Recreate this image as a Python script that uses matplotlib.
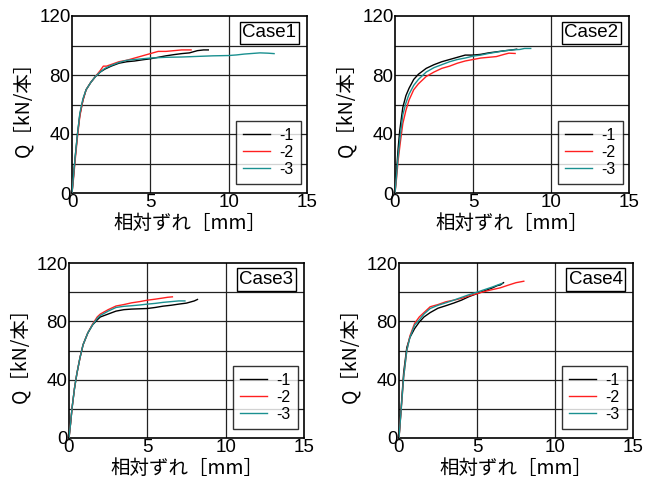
import matplotlib
matplotlib.use("Agg")
import matplotlib.pyplot as plt

plt.rcParams['font.family'] = ['Liberation Sans', 'Noto Sans CJK JP', 'DejaVu Sans']

# ---- data: relative slip [mm] vs shear force per connector [kN] ----
case_names = ["Case1", "Case2", "Case3", "Case4"]
series_labels = ["-1", "-2", "-3"]
series_colors = ["#000000", "#ff2020", "#1a9090"]

# Case1
c1_x1 = [0, 0.1, 0.2, 0.35, 0.5, 0.7, 0.9, 1.2, 1.5, 1.8, 2.1, 2.5, 3.0, 3.5, 4.0, 4.5, 5.0, 5.5, 6.0, 6.5, 7.0, 7.5, 8.0, 8.4, 8.7]
c1_y1 = [0, 12, 24, 40, 53, 63, 70, 75, 79, 82, 84, 86, 88, 89, 89.5, 90.3, 91, 92, 93, 93.8, 94.5, 95, 96.5, 97, 97]
c1_x2 = [0, 0.1, 0.2, 0.35, 0.5, 0.7, 0.9, 1.2, 1.5, 1.8, 2.0, 2.2, 2.6, 3.0, 3.5, 4.0, 4.5, 5.0, 5.5, 6.0, 6.5, 7.0, 7.6]
c1_y2 = [0, 10, 22, 38, 52, 63, 70, 75, 79, 83, 86, 86, 87.5, 89, 90, 91.5, 93, 94.5, 96, 96, 96.5, 97, 97]
c1_x3 = [0, 0.1, 0.2, 0.35, 0.5, 0.7, 0.9, 1.2, 1.5, 1.8, 2.1, 2.5, 3.0, 3.5, 4.0, 4.5, 5.0, 6.0, 7.0, 8.0, 9.0, 10.0, 10.5, 11.0, 11.5, 12.0, 12.5, 12.9]
c1_y3 = [0, 12, 24, 40, 54, 64, 70, 75, 79, 82, 84.5, 86.5, 88.5, 90, 90.5, 91, 91.5, 92, 92.2, 92.6, 93, 93.2, 93.6, 94.2, 94.6, 95, 94.8, 94.5]

# Case2
c2_x1 = [0, 0.1, 0.2, 0.3, 0.5, 0.7, 0.9, 1.2, 1.5, 2.0, 2.5, 3.0, 3.5, 4.0, 4.5, 5.0, 5.5, 6.0, 6.5, 7.0, 7.5, 7.8]
c2_y1 = [0, 15, 30, 42, 58, 66, 71, 77, 80.5, 84.5, 87, 89, 90.5, 92, 93.5, 93.5, 94, 95, 95.7, 96.4, 97, 97.5]
c2_x2 = [0, 0.1, 0.2, 0.35, 0.5, 0.7, 0.9, 1.2, 1.5, 2.0, 2.5, 3.0, 3.5, 4.0, 4.5, 5.0, 5.5, 6.0, 6.5, 7.0, 7.3, 7.7]
c2_y2 = [0, 10, 22, 35, 47, 56, 63, 70, 74, 79, 82, 84.5, 86, 88, 89.5, 90.5, 91.5, 92, 92.5, 94, 94.8, 94.6]
c2_x3 = [0, 0.1, 0.2, 0.35, 0.5, 0.7, 0.9, 1.2, 1.5, 2.0, 2.5, 3.0, 3.5, 4.0, 4.5, 5.0, 5.5, 6.0, 6.5, 7.0, 7.5, 8.0, 8.3, 8.7]
c2_y3 = [0, 12, 25, 40, 53, 61, 67, 73, 77, 82, 85, 87, 89, 90.5, 91.5, 92.8, 93.5, 94.6, 95.5, 96.4, 97, 97.3, 98, 98]

# Case3
c3_x1 = [0, 0.1, 0.2, 0.35, 0.5, 0.7, 0.9, 1.2, 1.5, 1.8, 2.0, 2.5, 3.0, 3.5, 4.0, 5.0, 5.5, 6.0, 6.5, 7.0, 7.5, 8.0, 8.2]
c3_y1 = [0, 10, 21, 34, 44, 55, 64, 72, 77.5, 81, 83, 85, 87, 88, 88.4, 88.8, 89.5, 90.4, 91, 91.8, 92.5, 94, 95]
c3_x2 = [0, 0.1, 0.2, 0.35, 0.5, 0.7, 0.9, 1.2, 1.5, 1.8, 2.0, 2.5, 3.0, 3.5, 4.0, 4.5, 5.0, 5.5, 6.0, 6.3, 6.6]
c3_y2 = [0, 10, 21, 34, 44, 55, 64, 72, 78, 83, 85, 88, 90.5, 91.5, 92.7, 93.5, 94.5, 95.2, 96, 96.5, 96.8]
c3_x3 = [0, 0.1, 0.2, 0.35, 0.5, 0.7, 0.9, 1.2, 1.5, 1.8, 2.0, 2.5, 3.0, 3.5, 4.0, 4.5, 5.0, 5.5, 6.0, 6.5, 7.0, 7.4]
c3_y3 = [0, 10, 21, 34, 44, 55, 64, 72, 77.5, 82, 84, 87, 89.5, 90.3, 90.7, 91.2, 91.8, 92.3, 93, 93.5, 94, 94]

# Case4
c4_x1 = [0, 0.1, 0.2, 0.3, 0.5, 0.7, 1.0, 1.3, 1.6, 2.0, 2.5, 3.0, 3.5, 4.0, 4.5, 5.0, 5.5, 6.0, 6.3, 6.5, 6.7]
c4_y1 = [0, 15, 30, 45, 62, 69, 75, 79.5, 83, 86, 89, 90.7, 92.5, 94.5, 97, 99, 101, 103, 104.5, 105, 106.5]
c4_x2 = [0, 0.1, 0.2, 0.3, 0.5, 0.7, 1.0, 1.3, 1.6, 2.0, 2.5, 3.0, 3.5, 4.0, 4.5, 5.0, 5.5, 6.0, 6.5, 7.0, 7.5, 8.0]
c4_y2 = [0, 14, 28, 42, 60, 70, 78.6, 83, 86, 90, 91.5, 93.4, 94.5, 95.7, 97.5, 99, 100.5, 101.8, 103, 104.8, 106.5, 107.5]
c4_x3 = [0, 0.1, 0.2, 0.3, 0.5, 0.7, 1.0, 1.3, 1.6, 2.0, 2.5, 3.0, 3.5, 4.0, 4.5, 5.0, 5.5, 6.0, 6.3, 6.6]
c4_y3 = [0, 14, 28, 42, 60, 69, 77.4, 81, 85, 88.8, 91, 92.7, 94.5, 96.4, 98.3, 100, 101.8, 103.6, 104.8, 106]

cases = [
    [(c1_x1, c1_y1), (c1_x2, c1_y2), (c1_x3, c1_y3)],
    [(c2_x1, c2_y1), (c2_x2, c2_y2), (c2_x3, c2_y3)],
    [(c3_x1, c3_y1), (c3_x2, c3_y2), (c3_x3, c3_y3)],
    [(c4_x1, c4_y1), (c4_x2, c4_y2), (c4_x3, c4_y3)],
]

x_ticks = [0, 5, 10, 15]
y_ticks = [0, 40, 80, 120]
y_grid = [20, 40, 60, 80, 100]
x_label = "相対ずれ［mm］"
y_label = "Q［kN/本］"

W, H = 650, 480
fig = plt.figure(figsize=(W / 100, H / 100), dpi=100)

# panel rectangles in pixels: (left, top, right, bottom)
panel_px = [(72, 16, 307, 193), (395, 16, 629, 193),
            (69, 263, 304, 438), (399, 263, 633, 438)]

cjk = ['Noto Sans CJK JP', 'DejaVu Sans']

for (l, t, r, b), name, curves in zip(panel_px, case_names, cases):
    ax = fig.add_axes([l / W, 1 - b / H, (r - l) / W, (b - t) / H])
    ax.set_xlim(0, 15)
    ax.set_ylim(0, 120)
    for v in [5, 10]:
        ax.axvline(v, color="#222222", lw=0.9, zorder=1)
    for v in y_grid:
        ax.axhline(v, color="#222222", lw=0.9, zorder=1)
    for (xs, ys), lab, col in zip(curves, series_labels, series_colors):
        ax.plot(xs, ys, color=col, lw=1.0, label=lab, zorder=3)
    ax.set_xticks(x_ticks)
    ax.set_yticks(y_ticks)
    ax.tick_params(length=0, labelsize=13.5, pad=1)
    for s in ax.spines.values():
        s.set_linewidth(1.2)
    ax.set_xlabel(x_label, fontsize=14, family=cjk, labelpad=1)
    ax.set_ylabel(y_label, fontsize=14, family=cjk, labelpad=4)
    ax.text(0.84, 0.905, name, transform=ax.transAxes, ha="center", va="center",
            fontsize=13.5, zorder=5,
            bbox=dict(boxstyle="square,pad=0.15", facecolor="white",
                      edgecolor="black", linewidth=1.0))
    leg = ax.legend(loc="lower right", bbox_to_anchor=(0.975, 0.05),
                    fontsize=11.5, frameon=True, fancybox=False,
                    handlelength=1.7, borderpad=0.45, labelspacing=0.13,
                    handletextpad=0.6, borderaxespad=0)
    leg.get_frame().set_edgecolor("black")
    leg.get_frame().set_linewidth(1.0)
    leg.set_zorder(5)

fig.savefig("out.png", dpi=100)
